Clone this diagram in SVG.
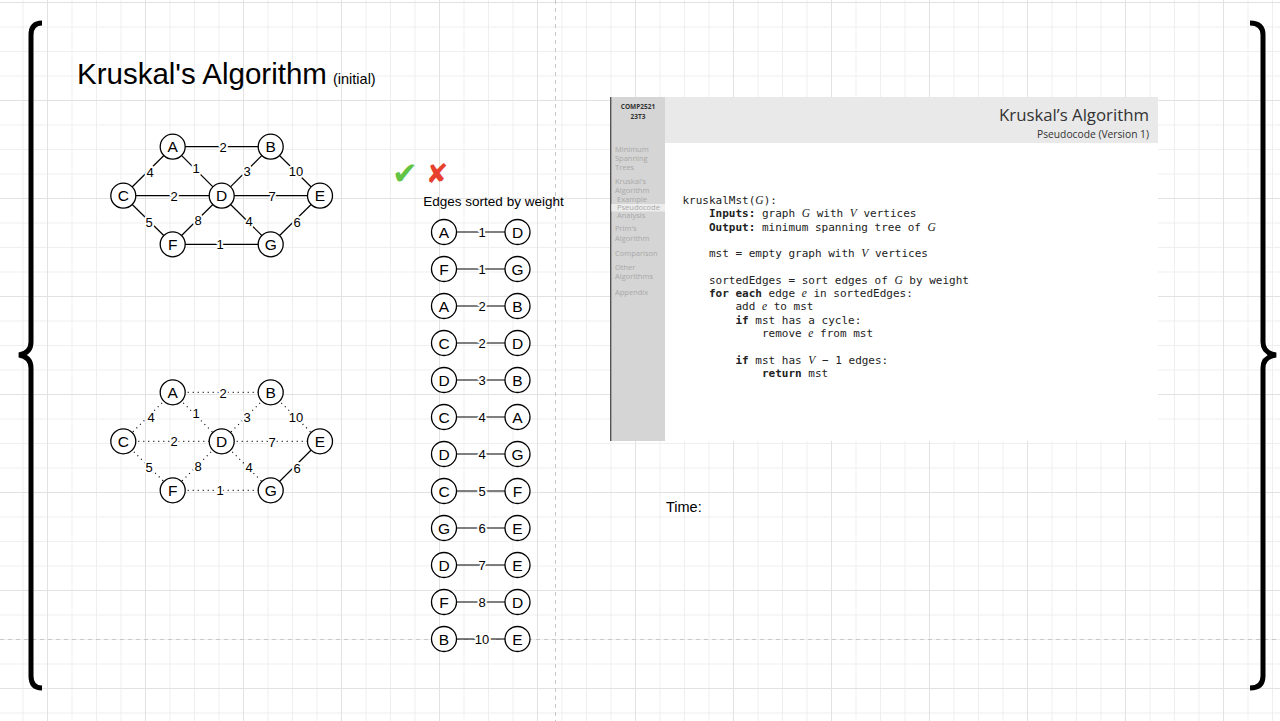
<svg xmlns="http://www.w3.org/2000/svg" width="1280" height="721" viewBox="0 0 1280 721">
<defs>
<pattern id="gridMinor" patternUnits="userSpaceOnUse" x="22.5" y="2" width="24.5" height="24.5">
<path d="M0,0.5 H24.5 M0.5,0 V24.5" fill="none" stroke="#efefef" stroke-width="1"/>
</pattern>
<pattern id="gridMajor" patternUnits="userSpaceOnUse" x="47" y="2" width="98" height="98">
<path d="M0,0.5 H98 M0.5,0 V98" fill="none" stroke="#e2e2e2" stroke-width="1"/>
</pattern>
<style>
.node circle{fill:#fff;stroke:#000;stroke-width:1.3}
.node text{font-family:"Liberation Sans",Arial,sans-serif;font-size:15.5px;text-anchor:middle;fill:#000}
.edge{stroke:#000;stroke-width:1.2;fill:none}
.dot{stroke:#000;stroke-width:1.2;fill:none;stroke-dasharray:1 4}
.lbl{font-family:"Liberation Sans",Arial,sans-serif;font-size:13px;text-anchor:middle;fill:#000;stroke:#fff;stroke-width:4;paint-order:stroke;stroke-linejoin:round}
.brace{fill:none;stroke:#000;stroke-width:5}
.side{font-family:"Open Sans","Noto Sans",sans-serif;font-size:7.5px;fill:#a8a8a8}
.code{font-family:"DejaVu Sans Mono","Liberation Mono",monospace;font-size:11px;fill:#222}
.m{font-family:"Liberation Serif","DejaVu Serif",serif;font-style:italic;font-size:11.5px}
.b{font-weight:bold}
</style>
</defs>

<g id="background">
<rect width="1280" height="721" fill="#fff"/>
<rect width="1280" height="721" fill="url(#gridMinor)"/>
<rect width="1280" height="721" fill="url(#gridMajor)"/>
<line x1="0" y1="639.5" x2="1280" y2="639.5" stroke="#c8c8c8" stroke-width="1" stroke-dasharray="4 4"/>
<line x1="555.5" y1="0" x2="555.5" y2="721" stroke="#c8c8c8" stroke-width="1" stroke-dasharray="4 4"/>
</g>

<g id="braces">
<path class="brace" d="M42,23 Q31,23 31,35 L31,342 Q31,353 19,355 Q31,357 31,368 L31,676 Q31,688 42,688"/>
<path class="brace" d="M1250,23 Q1263,23 1263,35 L1263,342 Q1263,353 1276,355 Q1263,357 1263,368 L1263,676 Q1263,688 1250,688"/>
</g>

<g id="title">
<text x="77" y="84" font-family="Liberation Sans,Arial,sans-serif" font-size="29.5" fill="#000">Kruskal's Algorithm</text>
<text x="333" y="84" font-family="Liberation Sans,Arial,sans-serif" font-size="14.5" fill="#000">(initial)</text>
</g>

<!-- Top graph -->
<g id="connectors-top">
<line class="edge" x1="172.7" y1="146.7" x2="270.7" y2="146.7"/>
<line class="edge" x1="172.7" y1="146.7" x2="123.3" y2="195.7"/>
<line class="edge" x1="172.7" y1="146.7" x2="221.7" y2="195.7"/>
<line class="edge" x1="123.3" y1="195.7" x2="221.7" y2="195.7"/>
<line class="edge" x1="270.7" y1="146.7" x2="221.7" y2="195.7"/>
<line class="edge" x1="270.7" y1="146.7" x2="320" y2="195.7"/>
<line class="edge" x1="221.7" y1="195.7" x2="320" y2="195.7"/>
<line class="edge" x1="123.3" y1="195.7" x2="172.7" y2="244.3"/>
<line class="edge" x1="221.7" y1="195.7" x2="172.7" y2="244.3"/>
<line class="edge" x1="221.7" y1="195.7" x2="270.7" y2="244.3"/>
<line class="edge" x1="320" y1="195.7" x2="270.7" y2="244.3"/>
<line class="edge" x1="172.7" y1="244.3" x2="270.7" y2="244.3"/>
<text class="lbl" x="223" y="151.5">2</text>
<text class="lbl" x="150" y="176.5">4</text>
<text class="lbl" x="196" y="172.5">1</text>
<text class="lbl" x="174" y="200.5">2</text>
<text class="lbl" x="247" y="176">3</text>
<text class="lbl" x="296" y="176">10</text>
<text class="lbl" x="272" y="201">7</text>
<text class="lbl" x="149" y="227">5</text>
<text class="lbl" x="198" y="225">8</text>
<text class="lbl" x="249" y="226">4</text>
<text class="lbl" x="297" y="227">6</text>
<text class="lbl" x="220" y="249">1</text>
</g>
<g id="nodes-top">
<g id="tA" class="node"><circle cx="172.7" cy="146.7" r="12.5"/><text x="172.7" y="152.2">A</text></g>
<g id="tB" class="node"><circle cx="270.7" cy="146.7" r="12.5"/><text x="270.7" y="152.2">B</text></g>
<g id="tC" class="node"><circle cx="123.3" cy="195.7" r="12.5"/><text x="123.3" y="201.2">C</text></g>
<g id="tD" class="node"><circle cx="221.7" cy="195.7" r="12.5"/><text x="221.7" y="201.2">D</text></g>
<g id="tE" class="node"><circle cx="320" cy="195.7" r="12.5"/><text x="320" y="201.2">E</text></g>
<g id="tF" class="node"><circle cx="172.7" cy="244.3" r="12.5"/><text x="172.7" y="249.8">F</text></g>
<g id="tG" class="node"><circle cx="270.7" cy="244.3" r="12.5"/><text x="270.7" y="249.8">G</text></g>
</g>

<!-- Bottom graph -->
<g id="connectors-bottom">
<line class="dot" x1="172.7" y1="392.3" x2="270.7" y2="392.3"/>
<line class="dot" x1="172.7" y1="392.3" x2="123.3" y2="441.3"/>
<line class="dot" x1="172.7" y1="392.3" x2="221.7" y2="441.3"/>
<line class="dot" x1="123.3" y1="441.3" x2="221.7" y2="441.3"/>
<line class="dot" x1="270.7" y1="392.3" x2="221.7" y2="441.3"/>
<line class="dot" x1="270.7" y1="392.3" x2="320" y2="441.3"/>
<line class="dot" x1="221.7" y1="441.3" x2="320" y2="441.3"/>
<line class="dot" x1="123.3" y1="441.3" x2="172.7" y2="490.3"/>
<line class="dot" x1="221.7" y1="441.3" x2="172.7" y2="490.3"/>
<line class="dot" x1="221.7" y1="441.3" x2="270.7" y2="490.3"/>
<line class="edge" x1="320" y1="441.3" x2="270.7" y2="490.3"/>
<line class="dot" x1="172.7" y1="490.3" x2="270.7" y2="490.3"/>
<text class="lbl" x="223" y="397.5">2</text>
<text class="lbl" x="151" y="422">4</text>
<text class="lbl" x="196" y="418">1</text>
<text class="lbl" x="174" y="446">2</text>
<text class="lbl" x="247" y="421.5">3</text>
<text class="lbl" x="296" y="421.5">10</text>
<text class="lbl" x="272" y="446.5">7</text>
<text class="lbl" x="149" y="472">5</text>
<text class="lbl" x="198" y="471">8</text>
<text class="lbl" x="249" y="472">4</text>
<text class="lbl" x="297" y="473">6</text>
<text class="lbl" x="220" y="495">1</text>
</g>
<g id="nodes-bottom">
<g id="bA" class="node"><circle cx="172.7" cy="392.3" r="12.5"/><text x="172.7" y="397.8">A</text></g>
<g id="bB" class="node"><circle cx="270.7" cy="392.3" r="12.5"/><text x="270.7" y="397.8">B</text></g>
<g id="bC" class="node"><circle cx="123.3" cy="441.3" r="12.5"/><text x="123.3" y="446.8">C</text></g>
<g id="bD" class="node"><circle cx="221.7" cy="441.3" r="12.5"/><text x="221.7" y="446.8">D</text></g>
<g id="bE" class="node"><circle cx="320" cy="441.3" r="12.5"/><text x="320" y="446.8">E</text></g>
<g id="bF" class="node"><circle cx="172.7" cy="490.3" r="12.5"/><text x="172.7" y="495.8">F</text></g>
<g id="bG" class="node"><circle cx="270.7" cy="490.3" r="12.5"/><text x="270.7" y="495.8">G</text></g>
</g>

<g id="marks">
<text x="405" y="184" font-family="DejaVu Sans,sans-serif" font-size="31" fill="#62c444" text-anchor="middle">✔</text>
<text x="437" y="183" font-family="DejaVu Sans,sans-serif" font-size="27" fill="#e8402f" text-anchor="middle">✘</text>
</g>

<g id="sorted-edges">
<text x="493.5" y="206" font-family="Liberation Sans,Arial,sans-serif" font-size="13.5" text-anchor="middle" fill="#000">Edges sorted by weight</text>
<g id="connectors-list">
<line class="edge" x1="456" y1="232" x2="505" y2="232"/>
<line class="edge" x1="456" y1="269" x2="505" y2="269"/>
<line class="edge" x1="456" y1="306" x2="505" y2="306"/>
<line class="edge" x1="456" y1="343" x2="505" y2="343"/>
<line class="edge" x1="456" y1="380" x2="505" y2="380"/>
<line class="edge" x1="456" y1="417" x2="505" y2="417"/>
<line class="edge" x1="456" y1="454" x2="505" y2="454"/>
<line class="edge" x1="456" y1="491" x2="505" y2="491"/>
<line class="edge" x1="456" y1="528" x2="505" y2="528"/>
<line class="edge" x1="456" y1="565" x2="505" y2="565"/>
<line class="edge" x1="456" y1="602" x2="505" y2="602"/>
<line class="edge" x1="456" y1="639" x2="505" y2="639"/>
<text class="lbl" x="482" y="236.6">1</text>
<text class="lbl" x="482" y="273.6">1</text>
<text class="lbl" x="482" y="310.6">2</text>
<text class="lbl" x="482" y="347.6">2</text>
<text class="lbl" x="482" y="384.6">3</text>
<text class="lbl" x="482" y="421.6">4</text>
<text class="lbl" x="482" y="458.6">4</text>
<text class="lbl" x="482" y="495.6">5</text>
<text class="lbl" x="482" y="532.6">6</text>
<text class="lbl" x="482" y="569.6">7</text>
<text class="lbl" x="482" y="606.6">8</text>
<text class="lbl" x="482" y="643.6">10</text>
</g>
<g id="list-nodes">
<g id="l1a" class="node"><circle cx="444" cy="232" r="12.5"/><text x="444" y="237.5">A</text></g>
<g id="l1b" class="node"><circle cx="517.5" cy="232" r="12.5"/><text x="517.5" y="237.5">D</text></g>
<g id="l2a" class="node"><circle cx="444" cy="269" r="12.5"/><text x="444" y="274.5">F</text></g>
<g id="l2b" class="node"><circle cx="517.5" cy="269" r="12.5"/><text x="517.5" y="274.5">G</text></g>
<g id="l3a" class="node"><circle cx="444" cy="306" r="12.5"/><text x="444" y="311.5">A</text></g>
<g id="l3b" class="node"><circle cx="517.5" cy="306" r="12.5"/><text x="517.5" y="311.5">B</text></g>
<g id="l4a" class="node"><circle cx="444" cy="343" r="12.5"/><text x="444" y="348.5">C</text></g>
<g id="l4b" class="node"><circle cx="517.5" cy="343" r="12.5"/><text x="517.5" y="348.5">D</text></g>
<g id="l5a" class="node"><circle cx="444" cy="380" r="12.5"/><text x="444" y="385.5">D</text></g>
<g id="l5b" class="node"><circle cx="517.5" cy="380" r="12.5"/><text x="517.5" y="385.5">B</text></g>
<g id="l6a" class="node"><circle cx="444" cy="417" r="12.5"/><text x="444" y="422.5">C</text></g>
<g id="l6b" class="node"><circle cx="517.5" cy="417" r="12.5"/><text x="517.5" y="422.5">A</text></g>
<g id="l7a" class="node"><circle cx="444" cy="454" r="12.5"/><text x="444" y="459.5">D</text></g>
<g id="l7b" class="node"><circle cx="517.5" cy="454" r="12.5"/><text x="517.5" y="459.5">G</text></g>
<g id="l8a" class="node"><circle cx="444" cy="491" r="12.5"/><text x="444" y="496.5">C</text></g>
<g id="l8b" class="node"><circle cx="517.5" cy="491" r="12.5"/><text x="517.5" y="496.5">F</text></g>
<g id="l9a" class="node"><circle cx="444" cy="528" r="12.5"/><text x="444" y="533.5">G</text></g>
<g id="l9b" class="node"><circle cx="517.5" cy="528" r="12.5"/><text x="517.5" y="533.5">E</text></g>
<g id="l10a" class="node"><circle cx="444" cy="565" r="12.5"/><text x="444" y="570.5">D</text></g>
<g id="l10b" class="node"><circle cx="517.5" cy="565" r="12.5"/><text x="517.5" y="570.5">E</text></g>
<g id="l11a" class="node"><circle cx="444" cy="602" r="12.5"/><text x="444" y="607.5">F</text></g>
<g id="l11b" class="node"><circle cx="517.5" cy="602" r="12.5"/><text x="517.5" y="607.5">D</text></g>
<g id="l12a" class="node"><circle cx="444" cy="639" r="12.5"/><text x="444" y="644.5">B</text></g>
<g id="l12b" class="node"><circle cx="517.5" cy="639" r="12.5"/><text x="517.5" y="644.5">E</text></g>
</g>
</g>

<g id="pseudocode-slide">
<rect x="610" y="97" width="548" height="344" fill="#fff"/>
<rect x="610" y="97" width="55" height="344" fill="#d5d5d5"/>
<line x1="610.7" y1="97" x2="610.7" y2="441" stroke="#555" stroke-width="1.4"/>
<rect x="665" y="97" width="493" height="46" fill="#e9e9e9"/>
<rect x="611.5" y="204" width="53.5" height="7.5" fill="#ededed"/>
<text x="638" y="109" font-family="Open Sans,Noto Sans,sans-serif" font-size="6.5" font-weight="bold" fill="#333" text-anchor="middle">COMP2521</text>
<text x="638" y="119" font-family="Open Sans,Noto Sans,sans-serif" font-size="6.5" font-weight="bold" fill="#333" text-anchor="middle">23T3</text>
<text class="side" x="615" y="152">Minimum</text>
<text class="side" x="615" y="161">Spanning</text>
<text class="side" x="615" y="170">Trees</text>
<text class="side" x="615" y="184">Kruskal's</text>
<text class="side" x="615" y="193">Algorithm</text>
<text class="side" x="617" y="202" font-size="4.5">Example</text>
<text class="side" x="617" y="210" font-size="4.8" fill="#444">Pseudocode</text>
<text class="side" x="617" y="218" font-size="4.5">Analysis</text>
<text class="side" x="615" y="231">Prim's</text>
<text class="side" x="615" y="241">Algorithm</text>
<text class="side" x="615" y="256">Comparison</text>
<text class="side" x="615" y="270">Other</text>
<text class="side" x="615" y="279">Algorithms</text>
<text class="side" x="615" y="295">Appendix</text>
<text x="1149" y="121" font-family="Open Sans,Noto Sans,sans-serif" font-size="17" fill="#333" text-anchor="end" textLength="150" lengthAdjust="spacingAndGlyphs">Kruskal’s Algorithm</text>
<text x="1149" y="137.5" font-family="Open Sans,Noto Sans,sans-serif" font-size="10.5" fill="#333" text-anchor="end" textLength="112" lengthAdjust="spacingAndGlyphs">Pseudocode (Version 1)</text>
<text class="code" x="682.5" y="204">kruskalMst(<tspan class="m">G</tspan>):</text>
<text class="code" x="709" y="217.3"><tspan class="b">Inputs:</tspan> graph <tspan class="m">G</tspan> with <tspan class="m">V</tspan> vertices</text>
<text class="code" x="709" y="230.6"><tspan class="b">Output:</tspan> minimum spanning tree of <tspan class="m">G</tspan></text>
<text class="code" x="709" y="257.2">mst = empty graph with <tspan class="m">V</tspan> vertices</text>
<text class="code" x="709" y="283.8">sortedEdges = sort edges of <tspan class="m">G</tspan> by weight</text>
<text class="code" x="709" y="297.1"><tspan class="b">for each</tspan> edge <tspan class="m">e</tspan> in sortedEdges:</text>
<text class="code" x="735.5" y="310.4">add <tspan class="m">e</tspan> to mst</text>
<text class="code" x="735.5" y="323.7"><tspan class="b">if</tspan> mst has a cycle:</text>
<text class="code" x="762" y="337">remove <tspan class="m">e</tspan> from mst</text>
<text class="code" x="735.5" y="363.6"><tspan class="b">if</tspan> mst has <tspan class="m">V</tspan> − 1 edges:</text>
<text class="code" x="762" y="376.9"><tspan class="b">return</tspan> mst</text>
</g>

<g id="time">
<text x="666" y="512" font-family="Liberation Sans,Arial,sans-serif" font-size="14.5" fill="#000">Time:</text>
</g>
</svg>
